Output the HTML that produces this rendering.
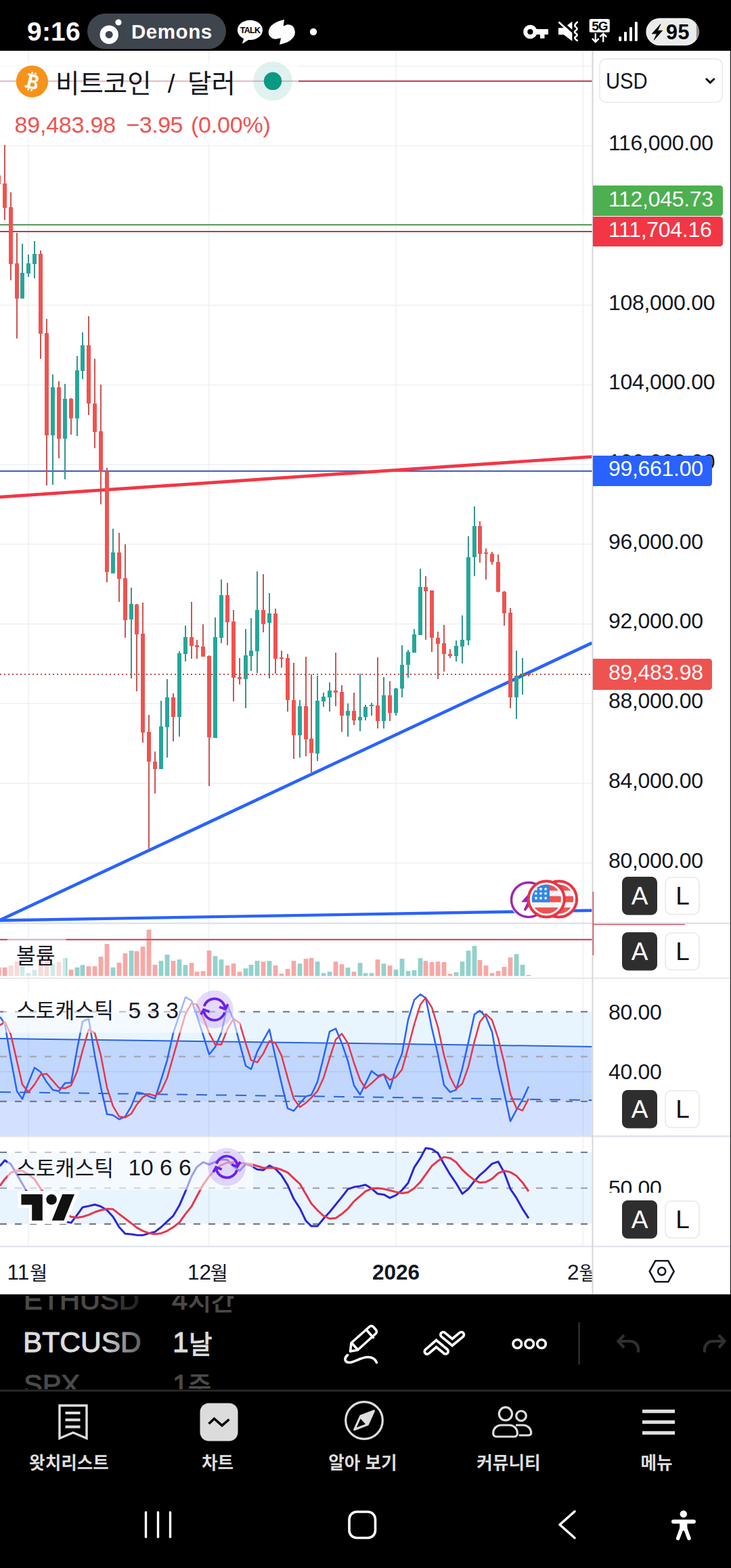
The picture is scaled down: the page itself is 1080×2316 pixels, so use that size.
<!DOCTYPE html>
<html lang="ko"><head><meta charset="utf-8"><title>BTCUSD chart</title>
<style>
html,body{margin:0;padding:0;background:#000;}
body{width:1080px;height:2316px;position:relative;overflow:hidden;font-family:"Liberation Sans",sans-serif;}
svg.m{position:absolute;left:0;top:0;}
.t{position:absolute;white-space:nowrap;line-height:1;}
svg.m text{font-family:"Liberation Sans","Noto Sans CJK KR",sans-serif;}
</style></head><body>
<svg class="m" width="1080" height="2316" viewBox="0 0 1080 2316">
<rect x="0" y="74.7" width="1079" height="1838" fill="#fff"/>
<rect x="0" y="1274" width="875.5" height="1.5" fill="#eef0f2"/>
<rect x="0" y="1156.2" width="875.5" height="1.5" fill="#eef0f2"/>
<rect x="0" y="1038.5" width="875.5" height="1.5" fill="#eef0f2"/>
<rect x="0" y="920.9" width="875.5" height="1.5" fill="#eef0f2"/>
<rect x="0" y="803.1" width="875.5" height="1.5" fill="#eef0f2"/>
<rect x="0" y="685.4" width="875.5" height="1.5" fill="#eef0f2"/>
<rect x="0" y="567.8" width="875.5" height="1.5" fill="#eef0f2"/>
<rect x="0" y="450" width="875.5" height="1.5" fill="#eef0f2"/>
<rect x="0" y="332.3" width="875.5" height="1.5" fill="#eef0f2"/>
<rect x="0" y="214.6" width="875.5" height="1.5" fill="#eef0f2"/>
<rect x="0" y="96.9" width="875.5" height="1.5" fill="#eef0f2"/>
<rect x="41.2" y="75" width="1.5" height="1766" fill="#eef0f2"/>
<rect x="307.9" y="75" width="1.5" height="1766" fill="#eef0f2"/>
<rect x="584.5" y="75" width="1.5" height="1766" fill="#eef0f2"/>
<rect x="860.5" y="75" width="1.5" height="1766" fill="#eef0f2"/>
<rect x="0" y="1582" width="875.5" height="2" fill="#eef0f2"/>
<rect x="0" y="118.8" width="875.5" height="2" fill="#b23c4a"/>
<rect x="0" y="331" width="875.5" height="2" fill="#5c9a5d"/>
<rect x="0" y="341" width="875.5" height="2" fill="#b23c4a"/>
<rect x="0" y="694.8" width="875.5" height="2" fill="#3656b4"/>
<line x1="-2" y1="734.2" x2="874.5" y2="674.6" stroke="#f23645" stroke-width="4.7"/>
<line x1="-3" y1="1359.5" x2="874.5" y2="1344.7" stroke="#2962ff" stroke-width="4.4"/>
<line x1="-3" y1="1360.4" x2="874.5" y2="949.7" stroke="#2962ff" stroke-width="4.6"/>
<g shape-rendering="crispEdges">
<rect x="0" y="259" width="1" height="12.5" fill="#ef5350"/>
<rect x="6" y="214.3" width="2" height="110.9" fill="#cc5552"/>
<rect x="4" y="270.9" width="6" height="35.6" fill="#ef5350"/>
<rect x="15" y="284.1" width="2" height="130.2" fill="#cc5552"/>
<rect x="13" y="305.9" width="6" height="83.9" fill="#ef5350"/>
<rect x="24" y="344.3" width="2" height="155.3" fill="#cc5552"/>
<rect x="22" y="389.1" width="6" height="51.8" fill="#ef5350"/>
<rect x="32" y="359.8" width="2" height="81.1" fill="#35958c"/>
<rect x="30" y="402.9" width="6" height="38.1" fill="#26a69a"/>
<rect x="41" y="376.1" width="2" height="32.6" fill="#35958c"/>
<rect x="39" y="389.1" width="6" height="15" fill="#26a69a"/>
<rect x="50" y="356" width="2" height="54.8" fill="#35958c"/>
<rect x="48" y="374.8" width="6" height="15.5" fill="#26a69a"/>
<rect x="59" y="369.8" width="2" height="159.8" fill="#cc5552"/>
<rect x="57" y="374.8" width="6" height="117.7" fill="#ef5350"/>
<rect x="68" y="471" width="2" height="246.4" fill="#cc5552"/>
<rect x="66" y="491.8" width="6" height="151" fill="#ef5350"/>
<rect x="77" y="553.1" width="2" height="162.8" fill="#35958c"/>
<rect x="75" y="571.9" width="6" height="70.9" fill="#26a69a"/>
<rect x="86" y="563.1" width="2" height="113.9" fill="#cc5552"/>
<rect x="84" y="571.9" width="6" height="75.9" fill="#ef5350"/>
<rect x="95" y="566.9" width="2" height="141" fill="#35958c"/>
<rect x="93" y="588.9" width="6" height="58.9" fill="#26a69a"/>
<rect x="104" y="587.7" width="2" height="54.3" fill="#cc5552"/>
<rect x="102" y="588.9" width="6" height="29.3" fill="#ef5350"/>
<rect x="113" y="526.1" width="2" height="117.7" fill="#35958c"/>
<rect x="111" y="546.9" width="6" height="70.9" fill="#26a69a"/>
<rect x="121" y="491" width="2" height="68.9" fill="#35958c"/>
<rect x="119" y="510" width="6" height="37.6" fill="#26a69a"/>
<rect x="130" y="467.2" width="2" height="145.5" fill="#cc5552"/>
<rect x="128" y="510" width="6" height="86.4" fill="#ef5350"/>
<rect x="139" y="530.1" width="2" height="131.5" fill="#cc5552"/>
<rect x="137" y="595.7" width="6" height="42.1" fill="#ef5350"/>
<rect x="148" y="568.1" width="2" height="177.3" fill="#cc5552"/>
<rect x="146" y="637" width="6" height="58.9" fill="#ef5350"/>
<rect x="157" y="691.3" width="2" height="168.3" fill="#cc5552"/>
<rect x="155" y="695.5" width="6" height="149.8" fill="#ef5350"/>
<rect x="166" y="780.9" width="2" height="66.1" fill="#35958c"/>
<rect x="164" y="816" width="6" height="31.1" fill="#26a69a"/>
<rect x="175" y="787.2" width="2" height="101.4" fill="#cc5552"/>
<rect x="173" y="816" width="6" height="38.6" fill="#ef5350"/>
<rect x="184" y="804" width="2" height="137.7" fill="#cc5552"/>
<rect x="182" y="854.1" width="6" height="61.4" fill="#ef5350"/>
<rect x="193" y="868.3" width="2" height="133.5" fill="#35958c"/>
<rect x="191" y="892.1" width="6" height="23.3" fill="#26a69a"/>
<rect x="201" y="892.1" width="2" height="129.2" fill="#cc5552"/>
<rect x="199" y="892.9" width="6" height="43.8" fill="#ef5350"/>
<rect x="210" y="890.4" width="2" height="206.6" fill="#cc5552"/>
<rect x="208" y="935.9" width="6" height="146" fill="#ef5350"/>
<rect x="219" y="1056.2" width="2" height="198.8" fill="#cc5552"/>
<rect x="217" y="1081.2" width="6" height="43.8" fill="#ef5350"/>
<rect x="228" y="1110.3" width="2" height="61.4" fill="#cc5552"/>
<rect x="226" y="1124.5" width="6" height="11.3" fill="#ef5350"/>
<rect x="237" y="1035.1" width="2" height="101.2" fill="#35958c"/>
<rect x="235" y="1073.2" width="6" height="63.1" fill="#26a69a"/>
<rect x="246" y="1003.1" width="2" height="115.7" fill="#35958c"/>
<rect x="244" y="1030.1" width="6" height="43.6" fill="#26a69a"/>
<rect x="255" y="1024.4" width="2" height="70.1" fill="#cc5552"/>
<rect x="253" y="1030.1" width="6" height="28.5" fill="#ef5350"/>
<rect x="264" y="962.2" width="2" height="125.5" fill="#35958c"/>
<rect x="262" y="965" width="6" height="93.7" fill="#26a69a"/>
<rect x="273" y="924.2" width="2" height="52.6" fill="#35958c"/>
<rect x="271" y="941.2" width="6" height="24.3" fill="#26a69a"/>
<rect x="282" y="889.1" width="2" height="83.4" fill="#cc5552"/>
<rect x="280" y="941.2" width="6" height="12.3" fill="#ef5350"/>
<rect x="290" y="945" width="2" height="27.5" fill="#cc5552"/>
<rect x="288" y="953" width="6" height="2.5" fill="#ef5350"/>
<rect x="299" y="922.2" width="2" height="47.6" fill="#cc5552"/>
<rect x="297" y="955" width="6" height="14.8" fill="#ef5350"/>
<rect x="308" y="968" width="2" height="192.8" fill="#cc5552"/>
<rect x="306" y="969.3" width="6" height="119.5" fill="#ef5350"/>
<rect x="317" y="912.2" width="2" height="177.8" fill="#35958c"/>
<rect x="315" y="941.2" width="6" height="148.8" fill="#26a69a"/>
<rect x="326" y="856.1" width="2" height="93.7" fill="#35958c"/>
<rect x="324" y="879.1" width="6" height="62.6" fill="#26a69a"/>
<rect x="335" y="860.8" width="2" height="92.2" fill="#cc5552"/>
<rect x="333" y="879.1" width="6" height="39.6" fill="#ef5350"/>
<rect x="344" y="901.1" width="2" height="134.5" fill="#cc5552"/>
<rect x="342" y="917.9" width="6" height="82.6" fill="#ef5350"/>
<rect x="353" y="972.3" width="2" height="38.8" fill="#cc5552"/>
<rect x="351" y="1000.1" width="6" height="2.5" fill="#ef5350"/>
<rect x="362" y="929.2" width="2" height="116.5" fill="#35958c"/>
<rect x="360" y="968" width="6" height="35.1" fill="#26a69a"/>
<rect x="370" y="912.9" width="2" height="77.6" fill="#35958c"/>
<rect x="368" y="961" width="6" height="7.8" fill="#26a69a"/>
<rect x="379" y="844" width="2" height="149.5" fill="#35958c"/>
<rect x="377" y="900.9" width="6" height="60.9" fill="#26a69a"/>
<rect x="388" y="848.3" width="2" height="85.4" fill="#cc5552"/>
<rect x="386" y="900.9" width="6" height="20.8" fill="#ef5350"/>
<rect x="397" y="876" width="2" height="125.7" fill="#35958c"/>
<rect x="395" y="906.1" width="6" height="14.3" fill="#26a69a"/>
<rect x="406" y="899.1" width="2" height="95.7" fill="#cc5552"/>
<rect x="404" y="906.1" width="6" height="66.4" fill="#ef5350"/>
<rect x="415" y="961.2" width="2" height="24.3" fill="#cc5552"/>
<rect x="413" y="971.2" width="6" height="2" fill="#ef5350"/>
<rect x="424" y="966.2" width="2" height="84.4" fill="#cc5552"/>
<rect x="422" y="971.7" width="6" height="62.6" fill="#ef5350"/>
<rect x="433" y="979.2" width="2" height="142.2" fill="#cc5552"/>
<rect x="431" y="1034.3" width="6" height="51.3" fill="#ef5350"/>
<rect x="442" y="1034.3" width="2" height="84.4" fill="#35958c"/>
<rect x="440" y="1043.1" width="6" height="42.6" fill="#26a69a"/>
<rect x="451" y="969.9" width="2" height="147.5" fill="#cc5552"/>
<rect x="449" y="1043.1" width="6" height="48.8" fill="#ef5350"/>
<rect x="459" y="995.5" width="2" height="147.8" fill="#cc5552"/>
<rect x="457" y="1091.1" width="6" height="21.3" fill="#ef5350"/>
<rect x="468" y="998" width="2" height="125.7" fill="#35958c"/>
<rect x="466" y="1035.1" width="6" height="77.4" fill="#26a69a"/>
<rect x="477" y="1023" width="2" height="20.8" fill="#35958c"/>
<rect x="475" y="1029.3" width="6" height="6.8" fill="#26a69a"/>
<rect x="486" y="1008" width="2" height="42.6" fill="#35958c"/>
<rect x="484" y="1019.8" width="6" height="10" fill="#26a69a"/>
<rect x="495" y="964.2" width="2" height="78.4" fill="#cc5552"/>
<rect x="493" y="1019.8" width="6" height="2.8" fill="#ef5350"/>
<rect x="504" y="1011.8" width="2" height="68.9" fill="#cc5552"/>
<rect x="502" y="1022.3" width="6" height="34.6" fill="#ef5350"/>
<rect x="513" y="1039.3" width="2" height="48.3" fill="#35958c"/>
<rect x="511" y="1050.1" width="6" height="6.8" fill="#26a69a"/>
<rect x="522" y="1023" width="2" height="47.6" fill="#cc5552"/>
<rect x="520" y="1050.1" width="6" height="13.5" fill="#ef5350"/>
<rect x="531" y="995" width="2" height="84.9" fill="#35958c"/>
<rect x="529" y="1059.3" width="6" height="4.3" fill="#26a69a"/>
<rect x="539" y="1041.1" width="2" height="22.5" fill="#35958c"/>
<rect x="537" y="1043.8" width="6" height="15.5" fill="#26a69a"/>
<rect x="548" y="1038.1" width="2" height="18.8" fill="#35958c"/>
<rect x="546" y="1040.6" width="6" height="2.5" fill="#26a69a"/>
<rect x="557" y="970.9" width="2" height="105.4" fill="#cc5552"/>
<rect x="555" y="1041.8" width="6" height="23" fill="#ef5350"/>
<rect x="566" y="1000" width="2" height="75.6" fill="#35958c"/>
<rect x="564" y="1026.8" width="6" height="38.1" fill="#26a69a"/>
<rect x="575" y="1006" width="2" height="58.9" fill="#cc5552"/>
<rect x="573" y="1026.8" width="6" height="25.8" fill="#ef5350"/>
<rect x="584" y="1015.5" width="2" height="41.3" fill="#35958c"/>
<rect x="582" y="1017.3" width="6" height="35.3" fill="#26a69a"/>
<rect x="593" y="952.9" width="2" height="76.9" fill="#35958c"/>
<rect x="591" y="982.2" width="6" height="34.6" fill="#26a69a"/>
<rect x="602" y="959.9" width="2" height="41.1" fill="#35958c"/>
<rect x="600" y="962.9" width="6" height="19.5" fill="#26a69a"/>
<rect x="611" y="929.1" width="2" height="34.6" fill="#35958c"/>
<rect x="609" y="937.4" width="6" height="26.3" fill="#26a69a"/>
<rect x="620" y="840.2" width="2" height="97.7" fill="#35958c"/>
<rect x="618" y="867" width="6" height="70.9" fill="#26a69a"/>
<rect x="628" y="851" width="2" height="93.7" fill="#cc5552"/>
<rect x="626" y="867.3" width="6" height="5.5" fill="#ef5350"/>
<rect x="637" y="871.5" width="2" height="91.4" fill="#cc5552"/>
<rect x="635" y="872" width="6" height="70.4" fill="#ef5350"/>
<rect x="646" y="932.9" width="2" height="70.1" fill="#cc5552"/>
<rect x="644" y="942.1" width="6" height="8.8" fill="#ef5350"/>
<rect x="655" y="923.4" width="2" height="68.4" fill="#cc5552"/>
<rect x="653" y="950.4" width="6" height="15.5" fill="#ef5350"/>
<rect x="664" y="959.2" width="2" height="12.5" fill="#cc5552"/>
<rect x="662" y="965.9" width="6" height="3.3" fill="#ef5350"/>
<rect x="673" y="946.1" width="2" height="30.6" fill="#35958c"/>
<rect x="671" y="954.2" width="6" height="14.5" fill="#26a69a"/>
<rect x="682" y="909.1" width="2" height="70.6" fill="#35958c"/>
<rect x="680" y="945.4" width="6" height="9.3" fill="#26a69a"/>
<rect x="691" y="792.1" width="2" height="160.8" fill="#35958c"/>
<rect x="689" y="822.7" width="6" height="123.2" fill="#26a69a"/>
<rect x="700" y="748" width="2" height="102.7" fill="#35958c"/>
<rect x="698" y="777.1" width="6" height="46.1" fill="#26a69a"/>
<rect x="708" y="770.1" width="2" height="60.6" fill="#cc5552"/>
<rect x="706" y="777.1" width="6" height="40.6" fill="#ef5350"/>
<rect x="717" y="810.2" width="2" height="45.8" fill="#cc5552"/>
<rect x="715" y="815.9" width="6" height="2" fill="#ef5350"/>
<rect x="726" y="815.2" width="2" height="18.8" fill="#cc5552"/>
<rect x="724" y="817.7" width="6" height="12.5" fill="#ef5350"/>
<rect x="735" y="819.4" width="2" height="55.3" fill="#cc5552"/>
<rect x="733" y="829.7" width="6" height="44.3" fill="#ef5350"/>
<rect x="744" y="873.3" width="2" height="50.8" fill="#cc5552"/>
<rect x="742" y="874" width="6" height="31.8" fill="#ef5350"/>
<rect x="753" y="898.3" width="2" height="147.8" fill="#cc5552"/>
<rect x="751" y="904.8" width="6" height="125" fill="#ef5350"/>
<rect x="762" y="961.2" width="2" height="100.7" fill="#35958c"/>
<rect x="760" y="998" width="6" height="31.8" fill="#26a69a"/>
<rect x="771" y="972.2" width="2" height="53.8" fill="#35958c"/>
<rect x="769" y="995" width="6" height="2" fill="#26a69a"/>
<rect x="780" y="995" width="2" height="3.5" fill="#cc5552"/>
<rect x="778" y="995" width="6" height="2" fill="#ef5350"/>
</g>
<line x1="0" y1="996" x2="873" y2="996" stroke="#b6504c" stroke-width="2" stroke-dasharray="2 4" shape-rendering="crispEdges"/>
<rect x="0" y="1386.8" width="875.5" height="2" fill="#c23f4c"/>
<g opacity="0.5">
<rect x="0" y="1428.9" width="1.6" height="12.7" fill="#ef5350"/>
<rect x="3.6" y="1428.9" width="6.8" height="12.7" fill="#ef5350"/>
<rect x="12.6" y="1426.1" width="6.8" height="15.5" fill="#ef5350"/>
<rect x="21.6" y="1420" width="6.8" height="21.6" fill="#ef5350"/>
<rect x="29.6" y="1426.7" width="6.8" height="14.9" fill="#26a69a"/>
<rect x="38.6" y="1437.2" width="6.8" height="4.4" fill="#26a69a"/>
<rect x="47.6" y="1432.5" width="6.8" height="9.1" fill="#26a69a"/>
<rect x="56.6" y="1417.8" width="6.8" height="23.8" fill="#ef5350"/>
<rect x="65.6" y="1403.3" width="6.8" height="38.3" fill="#ef5350"/>
<rect x="74.6" y="1423.3" width="6.8" height="18.3" fill="#26a69a"/>
<rect x="83.6" y="1421.1" width="6.8" height="20.5" fill="#ef5350"/>
<rect x="92.6" y="1415" width="6.8" height="26.6" fill="#26a69a"/>
<rect x="101.6" y="1432.2" width="6.8" height="9.4" fill="#ef5350"/>
<rect x="110.6" y="1428.9" width="6.8" height="12.7" fill="#26a69a"/>
<rect x="118.6" y="1425.3" width="6.8" height="16.3" fill="#26a69a"/>
<rect x="127.6" y="1427.2" width="6.8" height="14.4" fill="#ef5350"/>
<rect x="136.6" y="1427.2" width="6.8" height="14.4" fill="#ef5350"/>
<rect x="145.6" y="1413.1" width="6.8" height="28.5" fill="#ef5350"/>
<rect x="154.6" y="1394.2" width="6.8" height="47.4" fill="#ef5350"/>
<rect x="163.6" y="1428.9" width="6.8" height="12.7" fill="#26a69a"/>
<rect x="172.6" y="1421.9" width="6.8" height="19.7" fill="#ef5350"/>
<rect x="181.6" y="1408.1" width="6.8" height="33.5" fill="#ef5350"/>
<rect x="190.6" y="1404.2" width="6.8" height="37.4" fill="#26a69a"/>
<rect x="198.6" y="1405" width="6.8" height="36.6" fill="#ef5350"/>
<rect x="207.6" y="1398.1" width="6.8" height="43.5" fill="#ef5350"/>
<rect x="216.6" y="1373.1" width="6.8" height="68.5" fill="#ef5350"/>
<rect x="225.6" y="1425" width="6.8" height="16.6" fill="#ef5350"/>
<rect x="234.6" y="1419.2" width="6.8" height="22.4" fill="#26a69a"/>
<rect x="243.6" y="1410" width="6.8" height="31.6" fill="#26a69a"/>
<rect x="252.6" y="1419.2" width="6.8" height="22.4" fill="#ef5350"/>
<rect x="261.6" y="1417.2" width="6.8" height="24.4" fill="#26a69a"/>
<rect x="270.6" y="1425.3" width="6.8" height="16.3" fill="#26a69a"/>
<rect x="279.6" y="1422.2" width="6.8" height="19.4" fill="#ef5350"/>
<rect x="287.6" y="1435.3" width="6.8" height="6.3" fill="#ef5350"/>
<rect x="296.6" y="1434.4" width="6.8" height="7.2" fill="#ef5350"/>
<rect x="305.6" y="1403.9" width="6.8" height="37.7" fill="#ef5350"/>
<rect x="314.6" y="1412.2" width="6.8" height="29.4" fill="#26a69a"/>
<rect x="323.6" y="1417.2" width="6.8" height="24.4" fill="#26a69a"/>
<rect x="332.6" y="1426.1" width="6.8" height="15.5" fill="#ef5350"/>
<rect x="341.6" y="1423.1" width="6.8" height="18.5" fill="#ef5350"/>
<rect x="350.6" y="1435.3" width="6.8" height="6.3" fill="#ef5350"/>
<rect x="359.6" y="1430.3" width="6.8" height="11.3" fill="#26a69a"/>
<rect x="367.6" y="1425" width="6.8" height="16.6" fill="#26a69a"/>
<rect x="376.6" y="1419.2" width="6.8" height="22.4" fill="#26a69a"/>
<rect x="385.6" y="1420.3" width="6.8" height="21.3" fill="#ef5350"/>
<rect x="394.6" y="1419.2" width="6.8" height="22.4" fill="#26a69a"/>
<rect x="403.6" y="1426.1" width="6.8" height="15.5" fill="#ef5350"/>
<rect x="412.6" y="1438.1" width="6.8" height="3.5" fill="#ef5350"/>
<rect x="421.6" y="1431.1" width="6.8" height="10.5" fill="#ef5350"/>
<rect x="430.6" y="1419.2" width="6.8" height="22.4" fill="#ef5350"/>
<rect x="439.6" y="1423.3" width="6.8" height="18.3" fill="#26a69a"/>
<rect x="448.6" y="1416.1" width="6.8" height="25.5" fill="#ef5350"/>
<rect x="456.6" y="1415" width="6.8" height="26.6" fill="#ef5350"/>
<rect x="465.6" y="1420.3" width="6.8" height="21.3" fill="#26a69a"/>
<rect x="474.6" y="1437.2" width="6.8" height="4.4" fill="#26a69a"/>
<rect x="483.6" y="1435.3" width="6.8" height="6.3" fill="#26a69a"/>
<rect x="492.6" y="1420.3" width="6.8" height="21.3" fill="#ef5350"/>
<rect x="501.6" y="1424.2" width="6.8" height="17.4" fill="#ef5350"/>
<rect x="510.6" y="1429.2" width="6.8" height="12.4" fill="#26a69a"/>
<rect x="519.6" y="1435.3" width="6.8" height="6.3" fill="#ef5350"/>
<rect x="528.6" y="1422.2" width="6.8" height="19.4" fill="#26a69a"/>
<rect x="536.6" y="1437.2" width="6.8" height="4.4" fill="#26a69a"/>
<rect x="545.6" y="1437.2" width="6.8" height="4.4" fill="#26a69a"/>
<rect x="554.6" y="1417.2" width="6.8" height="24.4" fill="#ef5350"/>
<rect x="563.6" y="1423.3" width="6.8" height="18.3" fill="#26a69a"/>
<rect x="572.6" y="1426.1" width="6.8" height="15.5" fill="#ef5350"/>
<rect x="581.6" y="1432.2" width="6.8" height="9.4" fill="#26a69a"/>
<rect x="590.6" y="1416.1" width="6.8" height="25.5" fill="#26a69a"/>
<rect x="599.6" y="1434.2" width="6.8" height="7.4" fill="#26a69a"/>
<rect x="608.6" y="1433.1" width="6.8" height="8.5" fill="#26a69a"/>
<rect x="617.6" y="1415.3" width="6.8" height="26.3" fill="#26a69a"/>
<rect x="625.6" y="1419.2" width="6.8" height="22.4" fill="#ef5350"/>
<rect x="634.6" y="1421.1" width="6.8" height="20.5" fill="#ef5350"/>
<rect x="643.6" y="1420.3" width="6.8" height="21.3" fill="#ef5350"/>
<rect x="652.6" y="1421.1" width="6.8" height="20.5" fill="#ef5350"/>
<rect x="661.6" y="1438.3" width="6.8" height="3.3" fill="#ef5350"/>
<rect x="670.6" y="1436.1" width="6.8" height="5.5" fill="#26a69a"/>
<rect x="679.6" y="1420.3" width="6.8" height="21.3" fill="#26a69a"/>
<rect x="688.6" y="1404.2" width="6.8" height="37.4" fill="#26a69a"/>
<rect x="697.6" y="1397.2" width="6.8" height="44.4" fill="#26a69a"/>
<rect x="705.6" y="1418.1" width="6.8" height="23.5" fill="#ef5350"/>
<rect x="714.6" y="1426.1" width="6.8" height="15.5" fill="#ef5350"/>
<rect x="723.6" y="1437.2" width="6.8" height="4.4" fill="#ef5350"/>
<rect x="732.6" y="1434.2" width="6.8" height="7.4" fill="#ef5350"/>
<rect x="741.6" y="1428.1" width="6.8" height="13.5" fill="#ef5350"/>
<rect x="750.6" y="1414.2" width="6.8" height="27.4" fill="#ef5350"/>
<rect x="759.6" y="1409.2" width="6.8" height="32.4" fill="#26a69a"/>
<rect x="768.6" y="1425" width="6.8" height="16.6" fill="#26a69a"/>
<rect x="777.6" y="1440" width="6.8" height="1.6" fill="#ef5350"/>
</g>
<rect x="0" y="1494.4" width="874.5" height="132.5" fill="#2196f3" fill-opacity="0.1"/>
<polygon points="0,1533.9 874.5,1545.9 874.5,1678 0,1678" fill="#2962ff" fill-opacity="0.2"/>
<line x1="0" y1="1533.9" x2="874.5" y2="1545.9" stroke="#2a62e0" stroke-width="2"/>
<line x1="0" y1="1613" x2="874.5" y2="1625" stroke="#2a62e0" stroke-width="2" stroke-dasharray="16 13"/>
<line x1="0" y1="1494.4" x2="874.5" y2="1494.4" stroke="#787b86" stroke-width="2.2" stroke-dasharray="10 12"/>
<line x1="0" y1="1560.7" x2="874.5" y2="1560.7" stroke="#a4a6ae" stroke-width="2.2" stroke-dasharray="10 12"/>
<line x1="0" y1="1626.9" x2="874.5" y2="1626.9" stroke="#787b86" stroke-width="2.2" stroke-dasharray="10 12"/>
<polyline points="0,1501.9 7,1511.7 16,1564.4 25,1611.7 33,1623.3 42,1599.2 51,1576.9 60,1583.3 69,1598.3 78,1609.7 87,1611.7 96,1599.7 105,1599.2 114,1549.2 122,1508.9 131,1504.7 140,1558.9 149,1606.1 158,1645.6 167,1647.2 176,1653.3 185,1649.2 194,1633.9 202,1613.6 211,1615 220,1619.4 229,1622.8 238,1595 247,1565.8 256,1525.6 265,1499.2 274,1472.8 283,1477.8 291,1500.6 300,1528.3 309,1557.5 318,1546.4 327,1525.6 336,1485.3 345,1506.1 354,1540.8 363,1574.2 371,1579.2 380,1553.3 389,1536.7 398,1520.6 407,1561.7 416,1600.6 425,1637.2 434,1640.8 443,1629.7 452,1619.4 460,1617.2 469,1597.8 478,1561.7 487,1523.6 496,1519.4 505,1540.8 514,1567.2 523,1603.3 532,1616.7 540,1600.6 549,1581.9 558,1588.9 567,1586.7 576,1608.1 585,1578.3 594,1556.1 603,1506.1 612,1476.9 621,1468.6 629,1474.2 638,1518.6 647,1557.5 656,1602.8 665,1613.1 674,1609.7 683,1578.3 692,1539.4 701,1498.3 709,1492.8 718,1501.9 727,1524.2 736,1575.6 745,1614.4 754,1656.1 763,1639.4 772,1624.2 781,1604.7" fill="none" stroke="#2962ff" stroke-width="2.5" stroke-linejoin="round"/>
<polyline points="0,1514.4 7,1509.4 16,1528.3 25,1567.2 33,1601.9 42,1613.1 51,1601.9 60,1587.2 69,1586.1 78,1596.4 87,1606.7 96,1607.5 105,1603.3 114,1582.5 122,1551.9 131,1520.6 140,1525.6 149,1558.9 158,1606.1 167,1633.9 176,1649.2 185,1650.6 194,1645 202,1631.7 211,1620.6 220,1615.8 229,1618.6 238,1611.7 247,1592.2 256,1560.3 265,1528.3 274,1497.8 283,1481.7 291,1483.9 300,1501.9 309,1525.6 318,1542.8 327,1542.8 336,1520 345,1504.7 354,1511.1 363,1540.8 371,1565.8 380,1569.2 389,1556.1 398,1537.5 407,1540.8 416,1559.4 425,1592.2 434,1622.8 443,1635.3 452,1628.9 460,1621.4 469,1611.7 478,1592.2 487,1563.1 496,1535.3 505,1526.9 514,1540.8 523,1570 532,1595 540,1607.5 549,1600 558,1591.7 567,1586.7 576,1595 585,1590.8 594,1579.7 603,1547.8 612,1513.1 621,1483.9 629,1473.6 638,1488.1 647,1517.2 656,1558.9 665,1590.8 674,1608.3 683,1600.6 692,1575.6 701,1538.1 709,1509.4 718,1497.8 727,1506.7 736,1533.9 745,1570 754,1615.8 763,1636.7 772,1640.3 781,1622.8" fill="none" stroke="#e8364d" stroke-width="2.5" stroke-linejoin="round"/>
<rect x="0" y="1702" width="874.5" height="105.8" fill="#2196f3" fill-opacity="0.1"/>
<rect x="0" y="1753.8" width="875.5" height="2" fill="#eef0f2"/>
<line x1="0" y1="1702" x2="874.5" y2="1702" stroke="#787b86" stroke-width="2.2" stroke-dasharray="10 12"/>
<line x1="0" y1="1754.8" x2="874.5" y2="1754.8" stroke="#a4a6ae" stroke-width="2.2" stroke-dasharray="10 12"/>
<line x1="0" y1="1807.8" x2="874.5" y2="1807.8" stroke="#787b86" stroke-width="2.2" stroke-dasharray="10 12"/>
<polyline points="0,1722.2 7,1713.9 16,1719.4 25,1734.7 33,1748.6 42,1763.9 51,1775 60,1784.7 69,1791.7 78,1797.2 87,1801.4 96,1804.2 105,1806.1 114,1794.4 122,1783.3 131,1781.4 140,1779.2 149,1781.9 158,1787.5 167,1797.2 176,1812.5 185,1822.2 194,1823.1 202,1824.2 211,1824.4 220,1821.7 229,1819.4 238,1812.5 247,1804.2 256,1795.8 265,1780.6 274,1759.7 283,1737.5 291,1723.6 300,1716.7 309,1720 318,1716.1 327,1712.5 336,1713.3 345,1722.8 354,1729.2 363,1719.4 371,1722.2 380,1727.2 389,1728.3 398,1721.7 407,1726.4 416,1736.1 425,1750.6 434,1770.8 443,1784.7 452,1803.3 460,1811.1 469,1811.1 478,1800 487,1790.3 496,1779.2 505,1768.1 514,1756.4 523,1753.3 532,1751.9 540,1750 549,1755.6 558,1763.3 567,1764.4 576,1769.4 585,1765.3 594,1757.8 603,1747.2 612,1724.4 621,1710.6 629,1695.8 638,1697.2 647,1703.3 656,1719.4 665,1734.7 674,1747.8 683,1763.3 692,1756.1 701,1744.4 709,1735.6 718,1727.8 727,1718.9 736,1715.8 745,1731.9 754,1756.1 763,1769.4 772,1785.6 781,1799.4" fill="none" stroke="#2a26d9" stroke-width="3" stroke-linejoin="round"/>
<polyline points="0,1751.4 7,1741.7 16,1731.9 25,1729.2 33,1729.2 42,1734.7 51,1741.7 60,1755.6 69,1766.7 78,1776.4 87,1784.7 96,1791.7 105,1797.2 114,1798.6 122,1797.2 131,1794.4 140,1790.3 149,1787.5 158,1785.6 167,1786.1 176,1793.1 185,1800 194,1806.9 202,1813.1 211,1818.1 220,1821.4 229,1822.8 238,1821.7 247,1818.1 256,1812.5 265,1805.6 274,1793.1 283,1781.9 291,1766.7 300,1750 309,1737.5 318,1727.8 327,1720.8 336,1717.2 345,1716.7 354,1718.1 363,1718.6 371,1719.4 380,1722.2 389,1725 398,1725 407,1725 416,1727.8 425,1731.9 434,1740.3 443,1748.6 452,1763.9 460,1777.8 469,1787.5 478,1795.8 487,1800 496,1799.2 505,1793.1 514,1785.3 523,1774.4 532,1766.7 540,1759.7 549,1755.6 558,1755 567,1756.1 576,1758.3 585,1760.6 594,1762.5 603,1761.1 612,1755 621,1745.8 629,1734.7 638,1722.2 647,1714.7 656,1708.9 665,1710.6 674,1716.7 683,1727.8 692,1736.1 701,1743.1 709,1746.7 718,1745.8 727,1741.1 736,1732.8 745,1729.2 754,1731.4 763,1736.7 772,1746.7 781,1759.7" fill="none" stroke="#e8364d" stroke-width="3" stroke-linejoin="round"/>
<rect x="0" y="1362.5" width="1079" height="2.5" fill="#e0e3eb"/>
<rect x="0" y="1444" width="1079" height="1.6" fill="#e0e3eb"/>
<rect x="0" y="1677" width="1079" height="2.5" fill="#e0e3eb"/>
<rect x="0" y="1840" width="1079" height="2.2" fill="#e0e3eb"/>
<rect x="0" y="92" width="441" height="120" fill="#fff" fill-opacity="0.65"/>
<rect x="11" y="1385" width="86.5" height="57" fill="#fff" fill-opacity="0.55"/>
<rect x="5" y="1467" width="350" height="58.5" fill="#fff" fill-opacity="0.55"/>
<rect x="11" y="1700" width="363" height="57.5" fill="#fff" fill-opacity="0.55"/>
<circle cx="47.4" cy="120.3" r="23.6" fill="#f7931a"/>
<g transform="translate(46.9 120.3) rotate(14) scale(0.98)"><path d="M-8.5,-11 H2.5 C7.5,-11 9,-8 9,-5.5 C9,-2.500 7.500,-0.800 5.500,-0.200 C8.500,0.500 10,2.800 10,5.500 C10,9 7.500,11 3,11 H-8.500 V7.600 H-5.400 V-7.600 H-8.500 Z M-0.8,-7.2 H1.800 C4,-7.200 4.800,-6 4.800,-4.600 C4.800,-3.200 4,-2 1.800,-2 H-0.800 Z M-0.800,1.600 H2.300 C4.800,1.600 5.600,3 5.600,4.600 C5.600,6.200 4.800,7.400 2.300,7.400 H-0.800 Z M-3.6,-14.3 H-1 V-10.500 H-3.600 Z M1.400,-14.300 H4 V-10.500 H1.400 Z M-3.600,10.500 H-1 V14.300 H-3.600 Z M1.400,10.500 H4 V14.300 H1.400 Z" fill="#fff" fill-rule="evenodd"/></g>
<text x="82" y="136.500" font-size="38.500" fill="#131722">비트코인</text>
<text x="247.800" y="136.500" font-size="38.500" fill="#131722">/</text>
<text x="277" y="136.500" font-size="38.500" fill="#131722">달러</text>
<circle cx="403" cy="119.8" r="28.8" fill="#089981" fill-opacity="0.13"/>
<circle cx="403" cy="119.8" r="13.2" fill="#0a9981"/>
<text x="24" y="1422.500" font-size="31.300" fill="#131722">볼륨</text>
<text x="24" y="1504" font-size="31.300" fill="#131722">스토캐스틱</text>
<text x="24" y="1736.500" font-size="31.300" fill="#131722">스토캐스틱</text>
<circle cx="316.8" cy="1490.9" r="28.1" fill="#7c3aed" fill-opacity="0.19"/>
<g transform="translate(316.8 1490.9)" fill="none" stroke="#6a1ff0" stroke-width="3.7" stroke-linecap="butt"><path d="M-15.1,-4.6 A15.8,15.8 0 0 1 15.6,-2.8"/><path d="M15.100,4.600 A15.800,15.800 0 0 1 -15.600,2.800"/><path d="M7.3,-3.6 L15.800,-0.400 L20,-7.600" stroke-linejoin="miter"/><path d="M-7.300,3.600 L-15.800,0.400 L-20,7.600" stroke-linejoin="miter"/></g>
<circle cx="335" cy="1723.6" r="28.1" fill="#7c3aed" fill-opacity="0.19"/>
<g transform="translate(335 1723.6)" fill="none" stroke="#6a1ff0" stroke-width="3.7" stroke-linecap="butt"><path d="M-15.1,-4.6 A15.8,15.8 0 0 1 15.6,-2.8"/><path d="M15.100,4.600 A15.800,15.800 0 0 1 -15.600,2.800"/><path d="M7.3,-3.6 L15.800,-0.400 L20,-7.600" stroke-linejoin="miter"/><path d="M-7.300,3.600 L-15.800,0.400 L-20,7.600" stroke-linejoin="miter"/></g>
<g stroke="#fff" stroke-width="10" stroke-linejoin="miter" fill="#fff"><path d="M31.4,1764.1 H62.8 V1802.8 H47.2 V1779.4 H31.4 Z"/><circle cx="76.1" cy="1771.7" r="7.8"/><path d="M92.2,1764.1 H110 L94.4,1802.8 H76.7 Z"/><path d="M60,1775 H90 L78,1802.8 H60 Z"/></g>
<g fill="#111"><path d="M31.4,1764.1 H62.8 V1802.8 H47.2 V1779.4 H31.4 Z"/><circle cx="76.1" cy="1771.7" r="7.8"/><path d="M92.2,1764.1 H110 L94.4,1802.8 H76.7 Z"/></g>
<g transform="translate(781 1329)"><circle r="28.300" fill="#fff"/><circle r="25.5" fill="#fff" stroke="#9c27b0" stroke-width="3.5"/><path d="M6,-16 L-11,3.500 H-2 L-7.500,15 L-4.500,16.500 L10,-3 H1 L9.500,-14.500 Z" fill="#9c27b0"/></g>
<g transform="translate(825.6 1328)"><circle r="26.5" fill="#fff" stroke="#ea3443" stroke-width="4"/><clipPath id="fc825"><circle r="21.6"/></clipPath><g clip-path="url(#fc825)"><rect x="-22" y="-22" width="44" height="44" fill="#f5f6fa"/><rect x="-22" y="-22" width="44" height="9.5" fill="#ee5350"/><rect x="-22" y="-4.4" width="44" height="9" fill="#ee5350"/><rect x="-22" y="12.4" width="44" height="10" fill="#ee5350"/><rect x="-22" y="-22" width="26.7" height="26.500" fill="#2f86e4"/><polygon points="-15.4,-17.8 -14.6,-16 -12.6,-15.8 -14.2,-14.5 -13.7,-12.6 -15.4,-13.6 -17.1,-12.6 -16.6,-14.5 -18.2,-15.8 -16.2,-16" fill="#fff"/><polygon points="-15.4,-11.1 -14.6,-9.3 -12.6,-9.1 -14.2,-7.8 -13.7,-5.9 -15.4,-6.9 -17.1,-5.9 -16.6,-7.8 -18.2,-9.1 -16.2,-9.3" fill="#fff"/><polygon points="-15.4,-4.2 -14.6,-2.4 -12.6,-2.2 -14.2,-0.9 -13.7,1 -15.4,0 -17.1,1 -16.6,-0.9 -18.2,-2.2 -16.2,-2.4" fill="#fff"/><polygon points="-8.3,-17.8 -7.5,-16 -5.5,-15.8 -7.1,-14.5 -6.6,-12.6 -8.3,-13.6 -10,-12.6 -9.5,-14.5 -11.1,-15.8 -9.1,-16" fill="#fff"/><polygon points="-8.3,-11.1 -7.5,-9.3 -5.5,-9.1 -7.1,-7.8 -6.6,-5.9 -8.3,-6.9 -10,-5.9 -9.5,-7.8 -11.1,-9.1 -9.1,-9.3" fill="#fff"/><polygon points="-8.3,-4.2 -7.5,-2.4 -5.5,-2.2 -7.1,-0.9 -6.6,1 -8.3,0 -10,1 -9.5,-0.9 -11.1,-2.2 -9.1,-2.4" fill="#fff"/><polygon points="-1.2,-17.8 -0.4,-16 1.6,-15.8 0,-14.5 0.5,-12.6 -1.2,-13.6 -2.9,-12.6 -2.4,-14.5 -4,-15.8 -2,-16" fill="#fff"/><polygon points="-1.2,-11.1 -0.4,-9.3 1.6,-9.1 0,-7.8 0.5,-5.9 -1.2,-6.9 -2.9,-5.9 -2.4,-7.8 -4,-9.1 -2,-9.3" fill="#fff"/><polygon points="-1.2,-4.2 -0.4,-2.4 1.6,-2.2 0,-0.9 0.5,1 -1.2,0 -2.9,1 -2.4,-0.9 -4,-2.2 -2,-2.4" fill="#fff"/></g></g>
<g transform="translate(807.3 1328)"><circle r="26.5" fill="#fff" stroke="#ea3443" stroke-width="4"/><clipPath id="fc807"><circle r="21.6"/></clipPath><g clip-path="url(#fc807)"><rect x="-22" y="-22" width="44" height="44" fill="#f5f6fa"/><rect x="-22" y="-22" width="44" height="9.5" fill="#ee5350"/><rect x="-22" y="-4.4" width="44" height="9" fill="#ee5350"/><rect x="-22" y="12.4" width="44" height="10" fill="#ee5350"/><rect x="-22" y="-22" width="26.7" height="26.500" fill="#2f86e4"/><polygon points="-15.4,-17.8 -14.6,-16 -12.6,-15.8 -14.2,-14.5 -13.7,-12.6 -15.4,-13.6 -17.1,-12.6 -16.6,-14.5 -18.2,-15.8 -16.2,-16" fill="#fff"/><polygon points="-15.4,-11.1 -14.6,-9.3 -12.6,-9.1 -14.2,-7.8 -13.7,-5.9 -15.4,-6.9 -17.1,-5.9 -16.6,-7.8 -18.2,-9.1 -16.2,-9.3" fill="#fff"/><polygon points="-15.4,-4.2 -14.6,-2.4 -12.6,-2.2 -14.2,-0.9 -13.7,1 -15.4,0 -17.1,1 -16.6,-0.9 -18.2,-2.2 -16.2,-2.4" fill="#fff"/><polygon points="-8.3,-17.8 -7.5,-16 -5.5,-15.8 -7.1,-14.5 -6.6,-12.6 -8.3,-13.6 -10,-12.6 -9.5,-14.5 -11.1,-15.8 -9.1,-16" fill="#fff"/><polygon points="-8.3,-11.1 -7.5,-9.3 -5.5,-9.1 -7.1,-7.8 -6.6,-5.9 -8.3,-6.9 -10,-5.9 -9.5,-7.8 -11.1,-9.1 -9.1,-9.3" fill="#fff"/><polygon points="-8.3,-4.2 -7.5,-2.4 -5.5,-2.2 -7.1,-0.9 -6.6,1 -8.3,0 -10,1 -9.5,-0.9 -11.1,-2.2 -9.1,-2.4" fill="#fff"/><polygon points="-1.2,-17.8 -0.4,-16 1.6,-15.8 0,-14.5 0.5,-12.6 -1.2,-13.6 -2.9,-12.6 -2.4,-14.5 -4,-15.8 -2,-16" fill="#fff"/><polygon points="-1.2,-11.1 -0.4,-9.3 1.6,-9.1 0,-7.8 0.5,-5.9 -1.2,-6.9 -2.9,-5.9 -2.4,-7.8 -4,-9.1 -2,-9.3" fill="#fff"/><polygon points="-1.2,-4.2 -0.4,-2.4 1.6,-2.2 0,-0.9 0.5,1 -1.2,0 -2.9,1 -2.4,-0.9 -4,-2.2 -2,-2.4" fill="#fff"/></g></g>
<rect x="875.5" y="74.7" width="203.5" height="1838" fill="#fff"/>
<rect x="875.5" y="1362.5" width="203.5" height="2.5" fill="#e0e3eb"/>
<rect x="875.5" y="1444" width="203.5" height="1.6" fill="#e0e3eb"/>
<rect x="875.5" y="1677" width="203.5" height="2.5" fill="#e0e3eb"/>
<rect x="875.5" y="1840" width="203.5" height="2.2" fill="#e0e3eb"/>
<rect x="874.5" y="75" width="2" height="1837" fill="#d6d6d9"/>
<rect x="0" y="1911" width="1079" height="1.2" fill="#c4c4c4"/>
<rect x="875.6" y="1317" width="1.4" height="94" fill="#d9434f"/>
<rect x="876" y="1364.8" width="136" height="1.3" fill="#d9434f"/>
<rect x="885.9" y="87" width="181.3" height="64.2" rx="9.5" fill="#fff" stroke="#ebebec" stroke-width="1.8"/>
<path d="M1042.9,116 L1049.3,122.100 L1055.700,116" fill="none" stroke="#111" stroke-width="3.100"/>
<rect x="919" y="1295" width="52" height="56.5" rx="8.5" fill="#2e2e2e"/>
<rect x="983" y="1296" width="50" height="54.5" rx="8.5" fill="#fff" stroke="#e8e8ea" stroke-width="1.6"/>
<rect x="919" y="1377" width="52" height="56.5" rx="8.5" fill="#2e2e2e"/>
<rect x="983" y="1378" width="50" height="54.5" rx="8.5" fill="#fff" stroke="#e8e8ea" stroke-width="1.6"/>
<rect x="919" y="1610" width="52" height="56.5" rx="8.5" fill="#2e2e2e"/>
<rect x="983" y="1611" width="50" height="54.5" rx="8.5" fill="#fff" stroke="#e8e8ea" stroke-width="1.6"/>
<rect x="919" y="1773" width="52" height="56.5" rx="8.5" fill="#2e2e2e"/>
<rect x="983" y="1774" width="50" height="54.5" rx="8.5" fill="#fff" stroke="#e8e8ea" stroke-width="1.6"/>
<g transform="translate(977.7 1877.8)" fill="none" stroke="#131722" stroke-width="2.6"><path d="M-18,0 L-9.5,-15.5 H9.5 L18,0 L9.5,15.5 H-9.5 Z" stroke-linejoin="round"/><circle r="5.6"/></g>
<text x="44" y="1891" font-size="28.500" fill="#131722">월</text>
<text x="310.500" y="1891" font-size="28.500" fill="#131722">월</text>
<clipPath id="tclip"><rect x="0" y="1842" width="874.5" height="70"/></clipPath><g clip-path="url(#tclip)">
<text x="855.500" y="1891" font-size="28.500" fill="#131722">월</text></g>
<rect x="0" y="0" width="1080" height="75" fill="#000"/>
<rect x="129" y="20" width="205" height="52.5" rx="26.2" fill="#3f454d"/>
<circle cx="161.2" cy="51.2" r="9.6" fill="none" stroke="#fff" stroke-width="8.2"/><circle cx="175" cy="33" r="4.6" fill="#fff"/>
<ellipse cx="369.4" cy="44.4" rx="18.6" ry="14.6" fill="#fff"/><path d="M360.5,56 L357.8,64.8 L368.5,58 Z" fill="#fff"/>
<path d="M420,28.9 C412,30.5 404,33.9 399.5,39.5 C395.5,45 396,51.500 400,55.100 C402.500,57.300 405,57.800 407.100,57.800 L415,56.200 L413,65.700 C419,64.800 424,63 427.600,60.600 C433.500,56.500 436.500,51.500 435.800,46.500 C435.300,43 434,40.300 432.300,38.600 C430,36.600 427,36 424.400,36.200 L418.600,38.600 Z" fill="#fff"/>
<circle cx="463" cy="47" r="5.2" fill="#fff"/>
<circle cx="783.4" cy="47" r="7.2" fill="none" stroke="#fff" stroke-width="6.2"/><path d="M792,43 H810 V51 H804.5 V56.7 H798 V51 H792 Z" fill="#fff"/>
<path d="M825,41.2 H832.9 L845.4,31.8 V60.8 L832.9,51.2 H825 Z" fill="#fff"/>
<path d="M829.3,32.2 L847.500,48" stroke="#000" stroke-width="3.6"/><path d="M826.300,33.300 L838.500,44.600" stroke="#fff" stroke-width="2.800" stroke-linecap="round"/>
<path d="M852.9,32.8 Q847,37.400 850.800,40 Q854.500,42.400 850.800,44.800 Q847,47 850.800,49.400 Q854.500,51.600 850.800,54 Q847,56.200 852.900,59.900" fill="none" stroke="#fff" stroke-width="2.600" stroke-linecap="round"/>
<rect x="870.7" y="28" width="30.1" height="19.8" rx="2.6" fill="#fff"/>
<path d="M879.8,49.1 V61.5 M874.9,56.8 L879.800,61.900 L884.700,56.800 M891.250,62.200 V50 M886.300,54.700 L891.250,49.600 L896.200,54.700" fill="none" stroke="#fff" stroke-width="2.400"/>
<rect x="914.2" y="53.9" width="4" height="6.9" rx="1.2" fill="#fff"/>
<rect x="922" y="46.9" width="4" height="13.9" rx="1.2" fill="#fff"/>
<rect x="930" y="40" width="4" height="20.8" rx="1.2" fill="#fff"/>
<rect x="937.9" y="32.2" width="4" height="28.6" rx="1.2" fill="#fff"/>
<clipPath id="bclip"><rect x="954.4" y="26.7" width="78.4" height="40.6" rx="20.3"/></clipPath>
<g clip-path="url(#bclip)"><rect x="954" y="26" width="80" height="42" fill="#ebebeb"/><rect x="1028.8" y="26" width="6" height="42" fill="#8e8e8e"/></g>
<path d="M976,35.6 L963.2,49.8 H970.4 L966.2,59.2 L978.6,45.2 H971.6 Z" fill="#000" stroke="#000" stroke-width="0.8" stroke-linejoin="round"/>
<rect x="0" y="1912" width="1080" height="404" fill="#000"/>
<rect x="0" y="2052.6" width="1080" height="2.8" fill="#2a2a2a"/>
<clipPath id="wclip"><rect x="0" y="1914" width="480" height="137.5"/></clipPath>
<linearGradient id="fade" x1="0" x2="1" y1="0" y2="0"><stop offset="0" stop-color="#000" stop-opacity="0"/><stop offset="1" stop-color="#000" stop-opacity="0.55"/></linearGradient>
<g clip-path="url(#wclip)">
<text x="279" y="1998.500" font-size="37.500" fill="#dcdcdc" stroke="#dcdcdc" stroke-width="1.100">날</text>
<text x="278" y="1935.500" font-size="37" fill="#4a4a4a" stroke="#4a4a4a" stroke-width="1.100">시간</text>
<text x="278" y="2060" font-size="37" fill="#4a4a4a" stroke="#4a4a4a" stroke-width="1.100">주</text>
</g>
<g fill="none" stroke="#fff" stroke-width="3.6" stroke-linejoin="round" stroke-linecap="round"><path d="M519,1983.5 L546,1959.5 a4,4 0 0 1 5.5,0.3 L555.5,1964.3 a4,4 0 0 1 -0.3,5.5 L528.5,1994 L517.5,1996 Z"/><path d="M541,1964 L551.5,1975.5"/><path d="M519.5,1983.5 L528.5,1993.5"/><path d="M513.5,2001.5 c-6,5 -4,11 3,11 c8,0 16,-8 27,-8 c7,0 11,3 13,8"/></g>
<polyline points="631.1,1996.3 644.6,1984.6 658.3,1996" fill="none" stroke="#fff" stroke-width="11.4" stroke-linecap="round" stroke-linejoin="miter"/>
<polyline points="631.1,1996.3 644.6,1984.6 658.3,1996" fill="none" stroke="#000" stroke-width="4" stroke-linecap="round" stroke-linejoin="miter"/>
<polyline points="654.7,1971.4 668.2,1982.5 681.6,1971.4" fill="none" stroke="#fff" stroke-width="11.4" stroke-linecap="round" stroke-linejoin="miter"/>
<polyline points="654.7,1971.4 668.2,1982.5 681.6,1971.4" fill="none" stroke="#000" stroke-width="4" stroke-linecap="round" stroke-linejoin="miter"/>
<circle cx="764.3" cy="1985" r="6.3" fill="none" stroke="#fff" stroke-width="3.6"/>
<circle cx="782.2" cy="1985" r="6.3" fill="none" stroke="#fff" stroke-width="3.6"/>
<circle cx="800" cy="1985" r="6.3" fill="none" stroke="#fff" stroke-width="3.6"/>
<rect x="854.3" y="1953" width="2.6" height="62.5" fill="#2d2d2d"/>
<g fill="none" stroke="#2f2f2f" stroke-width="4.2"><path d="M922,1972 L913.5,1981 L922,1990.5 M914,1981 H931 a12,12 0 0 1 12,12 V1997.5"/><path d="M1062,1972 L1070.5,1981 L1062,1990.5 M1070,1981 H1053 a12,12 0 0 0 -12,12 V1997.5"/></g>
<g fill="none" stroke="#dedede" stroke-width="3.4"><path d="M88,2076 H128 V2124.5 L108,2116 L88,2124.5 Z" stroke-linejoin="miter"/><path d="M96.5,2087 H118.500 M96.500,2097.300 H118.500 M96.500,2107.600 H118.500" stroke-width="4"/></g>
<rect x="295.5" y="2072.5" width="56" height="56" rx="13" fill="#dcdcdc"/><path d="M308.5,2103 L316.5,2095.5 L328,2105.5 L338.5,2096.5" fill="none" stroke="#000" stroke-width="3.6" stroke-linejoin="miter"/>
<circle cx="538" cy="2098" r="27.3" fill="none" stroke="#dedede" stroke-width="3.2"/>
<path d="M552.5,2084 L543.3,2104.2 L523.6,2111.6 L532.8,2091.4 Z" fill="#dedede" stroke="#dedede" stroke-width="3" stroke-linejoin="round"/><path d="M532.6,2095.5 L540,2103.6 L526.8,2108.5 Z" fill="#000"/>
<g fill="none" stroke="#dedede" stroke-width="3.2"><circle cx="746.9" cy="2088.3" r="9.6"/><path d="M728.7,2117.5 v-1 a11.5,11.5 0 0 1 11.5,-11.5 h12.600 a11.500,11.500 0 0 1 11.500,11.500 v1 a4.500,4.500 0 0 1 -4.500,4.500 h-26.600 a4.500,4.500 0 0 1 -4.500,-4.500 Z"/><circle cx="770" cy="2091.3" r="7.3"/><path d="M762,2105 h11.200 a11.500,11.500 0 0 1 11.500,11.500 v0 a3.500,3.500 0 0 1 -3.500,3.500 h-14.500"/></g>
<rect x="949" y="2082" width="48" height="5.2" fill="#dedede"/>
<rect x="949" y="2097.9" width="48" height="5.2" fill="#dedede"/>
<rect x="949" y="2113.8" width="48" height="5.2" fill="#dedede"/>
<text x="43.100" y="2170" font-size="25.600" font-weight="bold" fill="#dedede">왓치리스트</text>
<text x="297.900" y="2170" font-size="25.600" font-weight="bold" fill="#dedede">차트</text>
<text x="485.200" y="2170" font-size="25.600" font-weight="bold" fill="#dedede">알아 보기</text>
<text x="704.300" y="2170" font-size="25.600" font-weight="bold" fill="#dedede">커뮤니티</text>
<text x="946.400" y="2170" font-size="25.600" font-weight="bold" fill="#dedede">메뉴</text>
<rect x="213.8" y="2232" width="3.4" height="40" rx="1.7" fill="#fff"/>
<rect x="231.8" y="2232" width="3.4" height="40" rx="1.7" fill="#fff"/>
<rect x="249.8" y="2232" width="3.4" height="40" rx="1.7" fill="#fff"/>
<rect x="516" y="2233" width="38.5" height="38.5" rx="11" fill="none" stroke="#fff" stroke-width="3.6"/>
<path d="M849,2232.500 L827,2252 L849,2271.5" fill="none" stroke="#fff" stroke-width="3.6" stroke-linecap="round" stroke-linejoin="round"/>
<g fill="#fff" stroke="#fff" stroke-linecap="round"><circle cx="1009.8" cy="2236.3" r="5.2" stroke="none"/><path d="M995,2247.600 H1024.900" stroke-width="6" fill="none"/><path d="M1004.2,2247.6 H1015.4 V2258 L1012.400,2262 L1009.800,2260.500 L1007.200,2262 L1004.200,2258 Z" stroke="none"/><path d="M1007,2257.500 L1001.700,2272.100 M1012.600,2257.500 L1017.900,2272.100" stroke-width="5.600" fill="none"/></g>
</svg>
<div class="t" style="left:21.5px;top:166.6px;font-size:34px;color:#ef5350;letter-spacing:-0.2px;">89,483.98</div>
<div class="t" style="left:186.5px;top:166.6px;font-size:34px;color:#ef5350;letter-spacing:-0.5px;">&minus;3.95</div>
<div class="t" style="left:282px;top:166.6px;font-size:34px;color:#ef5350;letter-spacing:-0.2px;">(0.00%)</div>
<div class="t" style="left:189.4px;top:1475.5px;font-size:33.5px;color:#131722;">5 3 3</div>
<div class="t" style="left:189.4px;top:1708px;font-size:33.5px;color:#131722;">10 6 6</div>
<div class="t" style="left:895px;top:101.5px;font-size:34px;color:#131722;transform:scaleX(0.86);transform-origin:0 0;">USD</div>
<div class="t" style="left:899px;top:195.2px;font-size:32px;color:#131722;letter-spacing:-0.3px;">116,000.00</div>
<div class="t" style="left:899px;top:430.6px;font-size:32px;color:#131722;letter-spacing:-0.3px;">108,000.00</div>
<div class="t" style="left:899px;top:548.3px;font-size:32px;color:#131722;letter-spacing:-0.3px;">104,000.00</div>
<div class="t" style="left:899px;top:666px;font-size:32px;color:#131722;letter-spacing:-0.3px;">100,000.00</div>
<div class="t" style="left:899px;top:783.7px;font-size:32px;color:#131722;letter-spacing:-0.3px;">96,000.00</div>
<div class="t" style="left:899px;top:901.4px;font-size:32px;color:#131722;letter-spacing:-0.3px;">92,000.00</div>
<div class="t" style="left:899px;top:1019.1px;font-size:32px;color:#131722;letter-spacing:-0.3px;">88,000.00</div>
<div class="t" style="left:899px;top:1136.8px;font-size:32px;color:#131722;letter-spacing:-0.3px;">84,000.00</div>
<div class="t" style="left:899px;top:1254.5px;font-size:32px;color:#131722;letter-spacing:-0.3px;">80,000.00</div>
<div style="position:absolute;left:876px;top:274px;width:191.5px;height:45.2px;background:#4caf50;border-radius:0 4.5px 4.5px 0"></div>
<div class="t" style="left:899px;top:277.8px;font-size:32px;color:#fff;letter-spacing:-0.3px;">112,045.73</div>
<div style="position:absolute;left:876px;top:320px;width:191.5px;height:44.2px;background:#f23645;border-radius:0 4.5px 4.5px 0"></div>
<div class="t" style="left:899px;top:323.3px;font-size:32px;color:#fff;letter-spacing:-0.3px;">111,704.16</div>
<div style="position:absolute;left:876px;top:672.9px;width:175.79999999999995px;height:45.6px;background:#2962ff;border-radius:0 4.5px 4.5px 0"></div>
<div class="t" style="left:899px;top:676px;font-size:32px;color:#fff;letter-spacing:-0.3px;">99,661.00</div>
<div style="position:absolute;left:876px;top:972.8px;width:175.79999999999995px;height:45.8px;background:#ef5350;border-radius:0 4.5px 4.5px 0"></div>
<div class="t" style="left:899px;top:976.6px;font-size:32px;color:#fff;letter-spacing:-0.3px;">89,483.98</div>
<div class="t" style="left:899px;top:1478.8px;font-size:32px;color:#131722;letter-spacing:-0.3px;">80.00</div>
<div class="t" style="left:899px;top:1567.4px;font-size:32px;color:#131722;letter-spacing:-0.3px;">40.00</div>
<div class="t" style="left:899px;top:1738.8px;font-size:32px;color:#131722;letter-spacing:-0.3px;clip-path:inset(0 0 9px 0);">50.00</div>
<div class="t" style="left:945px;top:1304.5px;font-size:37px;color:#fff;transform:translateX(-50%);">A</div>
<div class="t" style="left:1008.5px;top:1304.5px;font-size:37px;color:#111;transform:translateX(-50%);">L</div>
<div class="t" style="left:945px;top:1386.5px;font-size:37px;color:#fff;transform:translateX(-50%);">A</div>
<div class="t" style="left:1008.5px;top:1386.5px;font-size:37px;color:#111;transform:translateX(-50%);">L</div>
<div class="t" style="left:945px;top:1619.5px;font-size:37px;color:#fff;transform:translateX(-50%);">A</div>
<div class="t" style="left:1008.5px;top:1619.5px;font-size:37px;color:#111;transform:translateX(-50%);">L</div>
<div class="t" style="left:945px;top:1782.5px;font-size:37px;color:#fff;transform:translateX(-50%);">A</div>
<div class="t" style="left:1008.5px;top:1782.5px;font-size:37px;color:#111;transform:translateX(-50%);">L</div>
<div class="t" style="left:10.5px;top:1864.2px;font-size:31.5px;color:#131722;">11</div>
<div class="t" style="left:277px;top:1864.2px;font-size:31.5px;color:#131722;">12</div>
<div class="t" style="left:585px;top:1864.2px;font-size:31.5px;color:#131722;font-weight:bold;transform:translateX(-50%);">2026</div>
<div class="t" style="left:838px;top:1864.2px;font-size:31.5px;color:#131722;">2</div>
<div class="t" style="left:40px;top:26.9px;font-size:39px;color:#fff;font-weight:bold;letter-spacing:0.2px;">9:16</div>
<div class="t" style="left:194px;top:32.4px;font-size:29.5px;color:#fff;font-weight:bold;letter-spacing:0.55px;">Demons</div>
<div class="t" style="left:369.6px;top:38.8px;font-size:12.5px;color:#000;font-weight:bold;transform:translateX(-50%);letter-spacing:-0.7px;">TALK</div>
<div class="t" style="left:885.8px;top:28.8px;font-size:19px;color:#000;font-weight:bold;transform:translateX(-50%);letter-spacing:-1.1px;">5G</div>
<div class="t" style="left:984px;top:32.4px;font-size:30.5px;color:#000;font-weight:bold;letter-spacing:0.6px;">95</div>
<div style="position:absolute;left:0;top:1914px;width:480px;height:137.5px;overflow:hidden">
<div class="t" style="left:35px;top:-15px;font-size:41.5px;color:#4a4a4a;-webkit-text-stroke:1.1px #4a4a4a;">ETHUSD</div>
<div class="t" style="left:34px;top:47.9px;font-size:42.5px;color:#dcdcdc;letter-spacing:0px;-webkit-text-stroke:1.1px #dcdcdc;">BTCUSD</div>
<div class="t" style="left:35px;top:109.5px;font-size:41.5px;color:#4a4a4a;-webkit-text-stroke:1.1px #4a4a4a;">SPX</div>
<div class="t" style="left:254px;top:-15px;font-size:41.5px;color:#4a4a4a;-webkit-text-stroke:1.1px #4a4a4a;">4</div>
<div class="t" style="left:255px;top:47.9px;font-size:42.5px;color:#dcdcdc;-webkit-text-stroke:1.1px #dcdcdc;">1</div>
<div class="t" style="left:255px;top:109.5px;font-size:41.5px;color:#4a4a4a;-webkit-text-stroke:1.1px #4a4a4a;">1</div>
<div style="position:absolute;left:150px;top:0;width:62px;height:138px;background:linear-gradient(90deg,rgba(0,0,0,0),rgba(0,0,0,0.62))"></div>
</div>
</body></html>
